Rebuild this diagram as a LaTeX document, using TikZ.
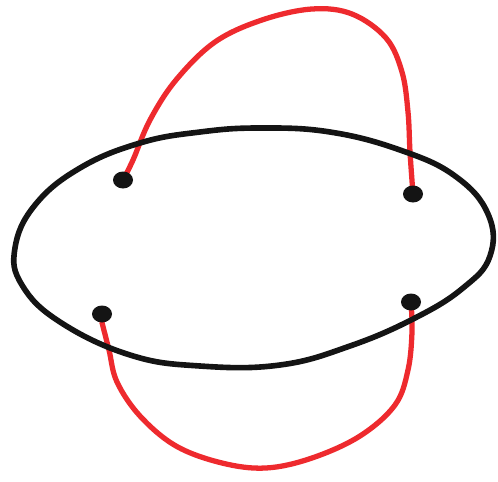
\documentclass[tikz,border=0pt]{standalone}
\usepackage{tikz}
\usetikzlibrary{backgrounds}
\definecolor{inkred}{HTML}{EE2A2E}
\definecolor{inkblack}{HTML}{141414}
\tikzset{
  blob/.style={ellipse, fill=inkblack, inner sep=0pt, minimum width=10mm, minimum height=8.5mm},
  ring/.style={draw=inkblack, line width=8pt, line join=round},
  strand/.style={draw=inkred, line width=7.5pt, line cap=round},
}
\usetikzlibrary{shapes.geometric}
\begin{document}
\begin{tikzpicture}[x=0.5mm, y=-0.5mm]
  \useasboundingbox (0,0) rectangle (498,482);
  % four ends
  \node[blob] (tl) at (123,180) {};
  \node[blob] (tr) at (413,194) {};
  \node[blob] (bl) at (102,314) {};
  \node[blob] (br) at (411,302) {};

  \begin{pgfonlayer}{background}
    % red strands
    \draw[strand] plot[smooth, tension=0.6] coordinates {(tl.center) (133,160) (150,120) (176,80) (215,42) (262,20) (312,9) (352,14) (386,38) (402,72) (408,112) (410,152) (tr.center)};
    \draw[strand] plot[smooth, tension=0.6] coordinates {(bl.south) (109,350) (117,382) (140,416) (176,446) (222,463) (266,468) (312,458) (360,436) (395,405) (408,370) (412,332) (br.center)};
    % black loop
    \draw[ring] plot[smooth cycle, tension=0.7] coordinates {(15,248) (35,205) (80,168) (140,143) (200,132) (260,128) (330,132) (400,150) (455,176) (488,214) (490,256) (463,288) (415,318) (350,346) (280,365) (200,366) (130,355) (60,322) (22,285)};
  \end{pgfonlayer}
\end{tikzpicture}
\end{document}
